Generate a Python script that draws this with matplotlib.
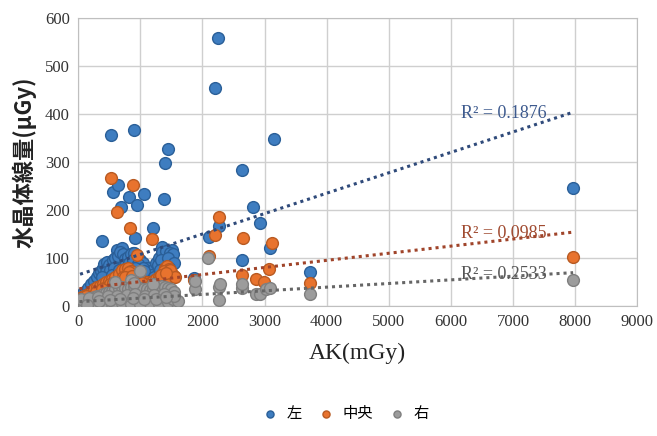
import numpy as np
import matplotlib
matplotlib.use('Agg')
import matplotlib.pyplot as plt

# series names (legend)
names = ['左', '中央', '右']

# 左 (blue)
left_x = [2258, 2210, 532, 903, 3145, 1452, 1403, 2645, 1387, 565, 645, 823, 952, 1064, 694,
          2806, 2919, 1210, 919, 2113, 2274, 387, 2629, 3080, 3726, 7967,
          629, 710, 887, 1000, 1355, 1516, 1403, 1871,
          30, 80, 120, 160, 200, 250, 300, 330, 360, 400, 420, 460, 500, 560, 600, 640,
          680, 720, 760, 800, 850, 900, 950, 1000, 1050, 1100, 1150, 1200, 1250, 1300,
          1350, 1420, 1480, 1530, 1000, 1100, 1400, 1500, 700, 300, 150,
          450, 520, 580, 750, 820, 880, 960, 1040, 1180, 1280, 1330, 1450, 1550,
          250, 380, 540, 660, 780, 920, 1060, 1220, 1320, 1460]
left_y = [558, 454, 356, 367, 348, 327, 298, 283, 223, 237, 252, 227, 210, 233, 206,
          206, 173, 162, 142, 144, 167, 135, 96, 121, 70, 246,
          117, 121, 110, 92, 123, 117, 96, 58,
          22, 28, 32, 38, 45, 52, 60, 68, 72, 80, 88, 92, 85, 95, 100, 105,
          112, 108, 98, 102, 108, 110, 105, 95, 90, 80, 72, 75, 90, 100,
          112, 115, 110, 108, 70, 60, 70, 65, 60, 40, 25,
          70, 75, 80, 85, 90, 95, 88, 80, 65, 85, 95, 100, 90,
          35, 60, 65, 75, 70, 80, 72, 60, 75, 80]

# 中央 (orange)
center_x = [532, 887, 629, 839, 1194, 952, 2274, 2210, 2661, 3113, 2113, 2629, 2855, 2984,
            3065, 3726, 7967, 1871,
            20, 60, 100, 150, 200, 250, 300, 350, 400, 450, 500, 550, 600, 650, 700, 750,
            800, 850, 900, 950, 1000, 1050, 1100, 1150, 1200, 1250, 1300, 1370, 1400, 1430,
            1460, 1500, 1540, 1450, 1380, 650, 900, 1200,
            120, 280, 420, 520, 620, 720, 820, 980, 1080, 1170, 1270, 1330, 1480, 1560,
            380, 560, 760, 860, 1020, 1130, 1410]
center_y = [267, 252, 196, 162, 140, 106, 185, 148, 142, 131, 105, 65, 56, 50,
            77, 48, 103, 55,
            15, 18, 22, 26, 30, 35, 40, 42, 45, 50, 52, 56, 60, 66, 75, 78,
            80, 72, 65, 60, 55, 52, 50, 48, 52, 56, 60, 54, 80, 84, 78, 70, 62, 60, 72,
            40, 45, 35,
            20, 30, 38, 45, 50, 60, 70, 58, 45, 42, 50, 65, 75, 60,
            35, 48, 60, 62, 48, 40, 68]

# 右 (gray)
right_x = [2097, 2274, 2274, 2290, 1887, 1887, 2629, 2645, 2855, 2919, 3016, 3080, 3726, 7967,
           1000, 850,
           20, 60, 100, 150, 200, 250, 300, 350, 400, 450, 500, 550, 600, 650, 700, 750,
           800, 850, 900, 950, 1000, 1050, 1100, 1150, 1200, 1250, 1300, 1350, 1400, 1450,
           1500, 1550, 100, 250, 400, 550, 700, 850, 1000, 1150, 1300, 1450, 1520, 1600,
           600, 900, 1200,
           50, 180, 320, 480, 620, 780, 920, 1080, 1220, 1380, 1540,
           140, 330, 520, 680, 880, 1060, 1260, 1420]
right_y = [100, 12, 40, 45, 35, 52, 37, 45, 25, 25, 35, 38, 25, 54,
           73, 55,
           5, 8, 10, 12, 15, 18, 20, 22, 25, 28, 30, 32, 35, 38, 40, 38,
           36, 40, 42, 40, 38, 36, 35, 34, 36, 38, 40, 42, 40, 38,
           35, 30, 2, 3, 4, 5, 6, 5, 4, 6, 5, 8, 15, 10,
           50, 48, 45,
           15, 16, 18, 20, 22, 24, 25, 22, 24, 26, 20,
           2, 10, 12, 14, 16, 15, 14, 18]

# trendline coefficients (intercept, slope) and R^2 labels
trend_intercept = [65, 36, 9]
trend_slope = [0.0425, 0.0148, 0.0076]
r2_labels = ['R² = 0.1876', 'R² = 0.0985', 'R² = 0.2533']
r2_y = [400, 152, 65]

face = ['#3E7DC0', '#E8732E', '#9C9C9C']
edge = ['#2A5F98', '#B85A22', '#7F7F7F']
trend_col = ['#2F4A7A', '#A0442A', '#666666']
label_col = ['#3D5A8E', '#A04A30', '#555555']

plt.rcParams['font.family'] = ['Liberation Serif', 'Noto Sans CJK JP']

fig = plt.figure(figsize=(6.57, 4.36), dpi=100)
ax = fig.add_axes([0.119, 0.298, 0.851, 0.661])

series = [(left_x, left_y), (center_x, center_y), (right_x, right_y)]
for i, (xs, ys) in enumerate(series):
    ax.scatter(xs, ys, s=72, c=face[i], edgecolors=edge[i], linewidths=1.0,
               zorder=3 + i, label=names[i])

for i, (xs, ys) in enumerate(series):
    x0, x1 = min(xs), max(xs)
    tx = np.array([x0, x1])
    ty = trend_intercept[i] + trend_slope[i] * tx
    ax.plot(tx, ty, color=trend_col[i], linestyle=(0, (1, 1.3)), linewidth=2.2, zorder=7)
    ax.text(6850, r2_y[i], r2_labels[i], color=label_col[i], fontsize=13,
            ha='center', va='center', zorder=8)

ax.set_xlim(0, 9000)
ax.set_ylim(0, 600)
ax.set_xticks(range(0, 9001, 1000))
ax.set_yticks(range(0, 601, 100))
ax.grid(True, color='#CFCFCF', linewidth=1.0)
ax.set_axisbelow(True)
for s in ax.spines.values():
    s.set_color('#BFBFBF')
ax.tick_params(length=0, labelsize=12, colors='#333333', pad=6)

ax.set_xlabel('AK(mGy)', fontsize=17, color='#222222', labelpad=9)
ax.set_ylabel('水晶体線量(μGy)', fontsize=16, fontweight='bold', color='#222222',
              family=['Noto Sans CJK JP', 'DejaVu Sans'], labelpad=6)

fig.legend(loc='lower center', bbox_to_anchor=(0.52, 0.0), ncol=3, frameon=False,
           handletextpad=0.05, columnspacing=0.6, markerscale=0.6,
           prop={'family': ['Noto Sans CJK JP'], 'size': 11})

fig.savefig('out.png', dpi=100)
